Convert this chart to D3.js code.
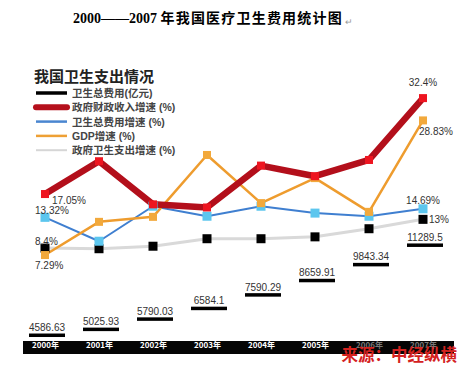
<!DOCTYPE html>
<html>
<head>
<meta charset="utf-8">
<script src="https://cdn.jsdelivr.net/npm/d3@7"></script>
<style>
  body { margin: 0; background: #fff; }
  text { font-family: "Liberation Sans", "Noto Sans CJK SC", sans-serif; }
</style>
</head>
<body>
<div id="chart-area"></div>
<script>
// data
const years = ["2000年", "2001年", "2002年", "2003年", "2004年", "2005年", "2006年", "2007年"];
const totalSpending = [4586.63, 5025.93, 5790.03, 6584.1, 7590.29, 8659.91, 9843.34, 11289.5]; // 亿元
const fiscalGrowth = [17.05, 22.3, 15.4, 14.9, 21.6, 19.9, 22.5, 32.4];
const healthGrowth = [13.32, 9.5, 15.1, 13.5, 15.1, 14.0, 13.5, 14.69];
const gdpGrowth = [7.29, 12.6, 13.4, 23.3, 15.6, 19.6, 14.2, 28.83];
const govHealthGrowth = [8.4, 8.3, 8.7, 9.9, 9.9, 10.2, 11.5, 13];
const legendNames = ["卫生总费用(亿元)", "政府财政收入增速 (%)", "卫生总费用增速 (%)", "GDP增速 (%)", "政府卫生支出增速 (%)"];

const width = 465, height = 368;

const svg = d3.select("#chart-area")
  .append("svg")
  .attr("width", width)
  .attr("height", height);

// title
const title = svg.append("text")
  .attr("x", 73)
  .attr("y", 23)
  .attr("font-size", "14px")
  .attr("font-weight", "bold")
  .attr("fill", "#000");
title.append("tspan")
  .style("font-family", "'Liberation Serif', serif")
  .text("2000——2007 ");
title.append("tspan")
  .style("font-family", "'Noto Sans CJK SC'")
  .attr("letter-spacing", "1.2px")
  .text("年我国医疗卫生费用统计图");
svg.append("text")
  .attr("x", 345)
  .attr("y", 25)
  .attr("font-size", "9px")
  .attr("fill", "#999")
  .text("↵");

// scales
const x = d3.scalePoint()
  .domain(years)
  .range([45, 423]);
const y = d3.scaleLinear()
  .domain([0, 35])
  .range([300.6, 81.85]);
const yTotal = d3.scaleLinear()
  .domain([4000, 12000])
  .range([342.9, 235.4]);

// legend
const lg = svg.append("g");
lg.append("text")
  .attr("x", 34)
  .attr("y", 82)
  .attr("font-size", "15px")
  .attr("font-weight", "bold")
  .attr("fill", "#222")
  .style("font-family", "'Noto Sans CJK SC'")
  .text("我国卫生支出情况");

const legendStyle = [
  {colour: "#000", w: 3.5},
  {colour: "#b5101c", w: 6},
  {colour: "#4a86d0", w: 2.5},
  {colour: "#eea035", w: 2.5},
  {colour: "#d6d6d6", w: 2}
];
legendNames.forEach((name, i) => {
  const ly = 93 + i * 14.3;
  lg.append("line")
    .attr("x1", 36).attr("x2", 67)
    .attr("y1", ly).attr("y2", ly)
    .attr("stroke", legendStyle[i].colour)
    .attr("stroke-width", legendStyle[i].w)
    .attr("stroke-linecap", i === 1 ? "round" : "butt");
  lg.append("text")
    .attr("x", 72)
    .attr("y", ly + 4)
    .attr("font-size", "10.5px")
    .attr("font-weight", "bold")
    .attr("fill", "#444")
    .text(name);
});

// x axis band
svg.append("rect")
  .attr("x", 23).attr("y", 341)
  .attr("width", 431).attr("height", 13)
  .attr("fill", "#050505");
const xAxis = d3.axisBottom(x).tickSize(0).tickPadding(0);
const gx = svg.append("g")
  .attr("transform", "translate(0,344)")
  .call(xAxis);
gx.select(".domain").remove();
gx.selectAll("text")
  .attr("fill", (d, i) => i >= 6 ? "#777" : "#fff")
  .attr("font-size", "8px")
  .attr("font-weight", "bold")
  .attr("dy", "0.55em")
  .style("font-family", "'Noto Sans CJK SC'");

// total spending as dashes
const totals = years.map((yr, i) => ({yr, v: totalSpending[i]}));
svg.selectAll(".dash")
  .data(totals)
  .enter().append("rect")
  .attr("class", "dash")
  .attr("x", d => x(d.yr) - 16)
  .attr("y", d => yTotal(d.v) - 1.5)
  .attr("width", 36)
  .attr("height", 3.5)
  .attr("fill", "#000");
svg.selectAll(".dash-label")
  .data(totals)
  .enter().append("text")
  .attr("class", "dash-label")
  .attr("x", d => x(d.yr) + 2)
  .attr("y", d => yTotal(d.v) - 4)
  .attr("text-anchor", "middle")
  .attr("font-size", "10px")
  .attr("fill", "#333")
  .text(d => d.v);

// growth series
const series = [
  {vals: govHealthGrowth, colour: "#d9d9d9", w: 3, marker: "#000", size: 9},
  {vals: healthGrowth, colour: "#3f7fd0", w: 2, marker: "#5cc6ee", size: 9},
  {vals: gdpGrowth, colour: "#ee9c2e", w: 2.5, marker: "#f2a93c", size: 8},
  {vals: fiscalGrowth, colour: "#b30f1b", w: 6.5, marker: "#ee1520", size: 8}
];
const line = d3.line()
  .x(d => x(d.yr))
  .y(d => y(d.v));

series.forEach(s => {
  s.data = years.map((yr, i) => ({yr, v: s.vals[i]}));
  svg.append("path")
    .attr("fill", "none")
    .attr("stroke", s.colour)
    .attr("stroke-width", s.w)
    .attr("stroke-linejoin", "round")
    .attr("d", line(s.data));
});
series.forEach(s => {
  svg.selectAll(null)
    .data(s.data)
    .enter().append("rect")
    .attr("x", d => x(d.yr) - s.size / 2)
    .attr("y", d => y(d.v) - s.size / 2)
    .attr("width", s.size)
    .attr("height", s.size)
    .attr("fill", s.marker);
});

// value labels at the ends
const first = years[0], last = years[years.length - 1];
const endLabels = [
  {v: fiscalGrowth[0], x: x(first) + 7, y: y(fiscalGrowth[0]) + 10, anchor: "start"},
  {v: healthGrowth[0], x: x(first) - 10, y: y(healthGrowth[0]) - 3, anchor: "start"},
  {v: govHealthGrowth[0], x: x(first) - 10, y: y(govHealthGrowth[0]) - 3, anchor: "start"},
  {v: gdpGrowth[0], x: x(first) - 10, y: y(gdpGrowth[0]) + 14, anchor: "start"},
  {v: fiscalGrowth[7], x: x(last), y: y(fiscalGrowth[7]) - 12, anchor: "middle"},
  {v: gdpGrowth[7], x: x(last) - 4, y: y(gdpGrowth[7]) + 15, anchor: "start"},
  {v: healthGrowth[7], x: x(last) + 17, y: y(healthGrowth[7]) - 5, anchor: "end"},
  {v: govHealthGrowth[7], x: x(last) + 6, y: y(govHealthGrowth[7]) + 4, anchor: "start"}
];
svg.selectAll(".end-label")
  .data(endLabels)
  .enter().append("text")
  .attr("class", "end-label")
  .attr("x", d => d.x)
  .attr("y", d => d.y)
  .attr("text-anchor", d => d.anchor)
  .attr("font-size", "10px")
  .attr("fill", "#333")
  .text(d => d.v + "%");

// source
svg.append("text")
  .attr("x", 457)
  .attr("y", 361)
  .attr("text-anchor", "end")
  .attr("font-size", "16.5px")
  .attr("font-weight", "bold")
  .attr("fill", "#d4221f")
  .style("font-family", "'Noto Sans CJK SC'")
  .text("来源：中经纵横");
</script>
</body>
</html>
